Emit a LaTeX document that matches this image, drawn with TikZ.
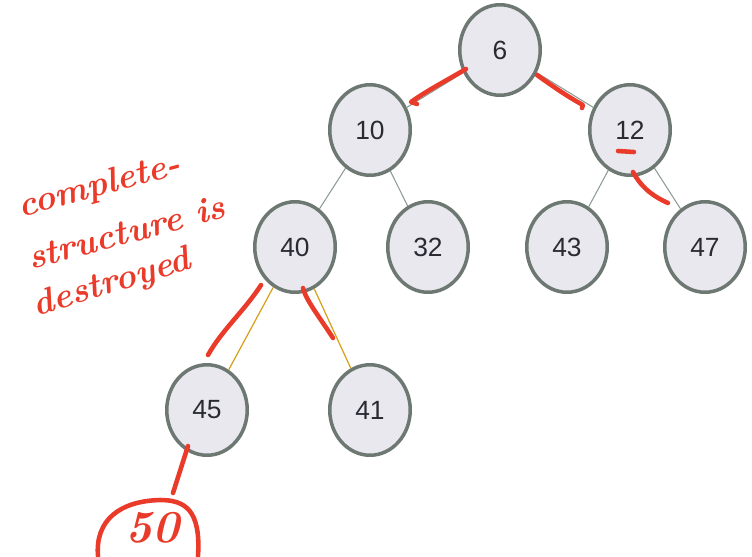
\documentclass[tikz,border=0pt]{standalone}
\usepackage{fontspec}
\setsansfont{Liberation Sans}
\usetikzlibrary{shapes.geometric}

\definecolor{nodefill}{HTML}{E8E8EE}
\definecolor{nodeline}{HTML}{6E7872}
\definecolor{nodetext}{HTML}{2A2A33}
\definecolor{linkgray}{HTML}{8E9A94}
\definecolor{linkgold}{HTML}{D4A21A}
\definecolor{ink}{HTML}{EA3B2A}

\begin{document}
\begin{tikzpicture}[x=0.02cm,y=-0.02cm]

\tikzstyle{vertex}=[ellipse,draw=nodeline,line width=2pt,fill=nodefill,minimum width=1.61cm,minimum height=1.81cm,inner sep=0pt,text=nodetext,font=\sffamily\fontsize{15}{18}\selectfont]
\tikzstyle{link}=[draw=linkgray,line width=0.6pt]
\tikzstyle{newlink}=[draw=linkgold,line width=0.7pt]
\tikzstyle{pen}=[draw=ink,line width=2.6pt,line cap=round,line join=round]
\tikzstyle{scrawl}=[text=ink,inner sep=0pt,font=\bfseries\itshape\fontsize{20}{24}\selectfont]

\useasboundingbox (0,0) rectangle (752,556);

% heap, level by level
\node[vertex] (P1) at (500,50) {6};
\node[vertex] (P2) at (370,130) {10};
\draw[link] (P1) -- (P2);
\node[vertex] (P3) at (630,130) {12};
\draw[link] (P1) -- (P3);
\node[vertex] (P4) at (295,247) {40};
\draw[link] (P2) -- (P4);
\node[vertex] (P5) at (428,247) {32};
\draw[link] (P2) -- (P5);
\node[vertex] (P6) at (567,247) {43};
\draw[link] (P3) -- (P6);
\node[vertex] (P7) at (705,247) {47};
\draw[link] (P3) -- (P7);
\node[vertex] (P8) at (207,410) {45};
\draw[newlink] (P4) -- (P8);
\node[vertex] (P9) at (370,410) {41};
\draw[newlink] (P4) -- (P9);

% cut-off letter at the left edge
\node[anchor=east,text=nodetext,font=\sffamily\fontsize{22}{26}\selectfont] (cut) at (7,255) {s};

% red pen marks
\draw[pen] (466,69) .. controls (440,84) and (425,92) .. (411,102) -- (417,104);
\draw[pen] (537,75) .. controls (555,88) and (570,98) .. (583,105) -- (582,108);
\draw[pen] (618,151) -- (634,152);
\draw[pen] (633,172) .. controls (640,185) and (650,195) .. (668,203);
\draw[pen] (261,285) .. controls (245,310) and (222,330) .. (208,355);
\draw[pen] (303,288) .. controls (306,300) and (318,315) .. (333,338);
\draw[pen] (188,446) -- (173,493);
\draw[pen] (98,556) .. controls (95,520) and (120,501) .. (160,500)
  .. controls (185,500) and (201,510) .. (198,556);

\node[scrawl,font=\bfseries\itshape\fontsize{26}{30}\selectfont] (fifty) at (152,528) {50};
\node[scrawl,rotate=15] (note1) at (100,187) {complete-};
\node[scrawl,rotate=15] (note2) at (126,232) {structure is};
\node[scrawl,rotate=17] (note3) at (112,284) {destroyed};

\end{tikzpicture}
\end{document}
